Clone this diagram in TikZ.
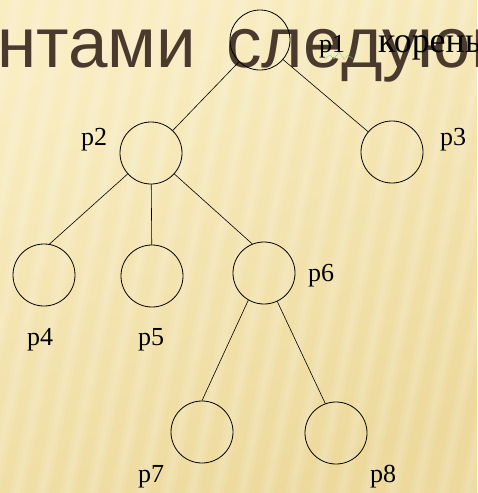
\documentclass[tikz,border=0pt]{standalone}
\usepackage{fontspec}
\setmainfont{Liberation Serif}
\newfontfamily\titlefont{Liberation Sans}
\definecolor{slidelight}{HTML}{F9EDC2}
\definecolor{slidedark}{HTML}{EDD99C}
\definecolor{titlebrown}{HTML}{4A3A2E}
\definecolor{squiggle}{HTML}{7DBE86}
\begin{document}
\begin{tikzpicture}[x=1pt, y=-1pt, line join=round, line cap=round,
    vertex/.style={draw, circle, minimum size=62pt, inner sep=0pt, line width=0.8pt},
    edge/.style={line width=0.6pt},
    lbl/.style={anchor=base west, inner sep=0pt, font=\fontsize{26}{26}\selectfont},
    heading/.style={anchor=base west, inner sep=0pt, text=titlebrown,
      font=\titlefont\fontsize{71}{71}\selectfont}]
  \useasboundingbox (0,0) rectangle (477,493);
  \clip (0,0) rectangle (477,493);
  % slide background with soft slanted stripes
  \shade[top color=slidelight, bottom color=slidedark, shading angle=25] (0,0) rectangle (477,493);
  \foreach \s in {-40,-15,...,610} {
    \fill[white, opacity=0.10] (\s,0) -- (\s+14,0) -- (\s-86,493) -- (\s-100,493) -- cycle;
    \fill[white, opacity=0.10] (\s+4,0) -- (\s+10,0) -- (\s-90,493) -- (\s-96,493) -- cycle;
  }
  % heading line of the slide
  \node[heading] (w1) at (-3,67) {нтами};
  \node[heading] (w2) at (226,67) {следующ};
  % tree
  \node[vertex, minimum size=60pt] (p1) at (260,40) {};
  \node[vertex] (p2) at (151,153) {};
  \node[vertex] (p3) at (392,152) {};
  \node[vertex] (p4) at (44,275) {};
  \node[vertex] (p5) at (152,276) {};
  \node[vertex] (p6) at (264,273) {};
  \node[vertex] (p7) at (202,432) {};
  \node[vertex] (p8) at (336,433) {};
  \draw[edge] (p1) -- (p2);
  \draw[edge] (p1) -- (p3);
  \draw[edge] (p2) -- (p4.80);
  \draw[edge] (p2) -- (p5);
  \draw[edge] (p2) -- (p6.112);
  \draw[edge] (p6.240) -- (p7.north);
  \draw[edge] (p6.295) -- (p8.110);
  % names of the vertices
  \node[lbl] (n1) at (319,52) {p1};
  \node[lbl] (root) at (378,52) {\scalebox{1.38}{корень}};
  \node[lbl] (n2) at (81,145) {p2};
  \node[lbl] (n3) at (440,145) {p3};
  \node[lbl] (n4) at (27,345) {p4};
  \node[lbl] (n5) at (138,345) {p5};
  \node[lbl] (n6) at (308,281) {p6};
  \node[lbl] (n7) at (138,482) {p7};
  \node[lbl] (n8) at (370,482) {p8};
  \draw[squiggle, densely dotted, line width=0.6pt]
    (325,59) -- (330,55) -- (334,59) -- (339,52) -- (344,59) -- (348,55) -- (353,59);
\end{tikzpicture}
\end{document}
